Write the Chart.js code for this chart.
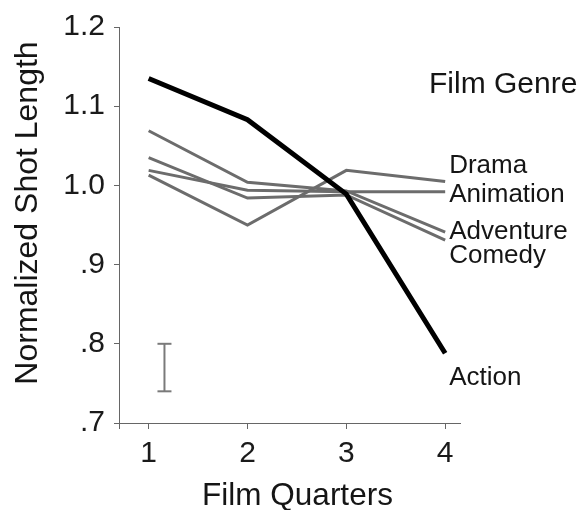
<!DOCTYPE html>
<html>
<head>
<meta charset="utf-8">
<script src="https://cdn.jsdelivr.net/npm/chart.js@4.4.1/dist/chart.umd.min.js"></script>
<style>
  body { margin: 0; background: #fff; }
  #wrap { width: 588px; height: 510px; }
</style>
</head>
<body>
<div id="wrap"><canvas id="shotChart" width="588" height="510"></canvas></div>
<script>
// quarters of the film and normalized shot length per genre
const quarters = [1, 2, 3, 4];
const genres = ['Action', 'Drama', 'Animation', 'Adventure', 'Comedy'];
const action = [1.135, 1.083, 0.989, 0.788];
const drama = [1.013, 0.950, 1.019, 1.005];
const animation = [1.019, 0.994, 0.992, 0.992];
const adventure = [1.069, 1.004, 0.993, 0.941];
const comedy = [1.035, 0.984, 0.988, 0.931];

// error bar shown in the lower left
const errorBarX = 1.16;
const errorBarRange = [0.74, 0.80];

const xTickValues = [0.7, 1, 2, 3, 4];
const xTickLabels = ['', '1', '2', '3', '4'];
const yTickValues = [0.7, 0.8, 0.9, 1.0, 1.1, 1.2];
const yTickLabels = ['.7', '.8', '.9', '1.0', '1.1', '1.2'];

const FONT = '"Liberation Sans", Arial, sans-serif';
const GREY = '#6c6c6c';

function toPoints(values) {
    return quarters.map((q, i) => ({ x: q, y: values[i] }));
}

const series = [action, drama, animation, adventure, comedy];

const datasets = series.map((values, i) => ({
    label: genres[i],
    data: toPoints(values),
    borderColor: i === 0 ? '#000' : GREY,
    borderWidth: i === 0 ? 5 : 3,
    pointRadius: 0,
    tension: 0,
    fill: false
}));

datasets.push({
    label: 'error',
    data: errorBarRange.map(v => ({ x: errorBarX, y: v })),
    borderColor: '#7a7a7a',
    borderWidth: 2,
    pointStyle: 'line',
    pointRadius: 7,
    pointBorderWidth: 2,
    pointBorderColor: '#7a7a7a',
    fill: false
});

// label offsets (px) from each line's last point
const labelShift = { Action: 32, Drama: -8, Animation: 10.5, Adventure: 7, Comedy: 23 };

const textPlugin = {
    id: 'genreText',
    afterDraw(chart) {
        const ctx = chart.ctx;
        const xs = chart.scales.x;
        const ys = chart.scales.y;
        const area = chart.chartArea;
        ctx.save();
        ctx.fillStyle = '#151515';
        ctx.textAlign = 'left';
        ctx.textBaseline = 'alphabetic';

        ctx.font = '30px ' + FONT;
        ctx.fillText('Film Genre', 429, 93);

        ctx.font = '26px ' + FONT;
        const lx = xs.getPixelForValue(4) + 4;
        series.forEach((values, i) => {
            const name = genres[i];
            const y = ys.getPixelForValue(values[values.length - 1]) + labelShift[name];
            ctx.fillText(name, lx, y);
        });

        // axis titles
        ctx.font = '31.5px ' + FONT;
        ctx.textAlign = 'center';
        ctx.fillText('Film Quarters', (area.left + area.right) / 2 + 8, 505);

        ctx.font = '32px ' + FONT;
        ctx.translate(37, (area.top + area.bottom) / 2 - 12);
        ctx.rotate(-Math.PI / 2);
        ctx.fillText('Normalized Shot Length', 0, 0);
        ctx.restore();
    }
};

new Chart(document.getElementById('shotChart'), {
    type: 'line',
    data: { datasets: datasets },
    options: {
        responsive: false,
        animation: false,
        layout: { padding: { top: 24, right: 128, left: 0, bottom: 0 } },
        plugins: {
            legend: { display: false },
            tooltip: { enabled: false }
        },
        scales: {
            x: {
                type: 'linear',
                min: 0.7,
                max: 4.15,
                afterBuildTicks: axis => { axis.ticks = xTickValues.map(v => ({ value: v })); },
                afterFit: axis => { axis.height = 87; },
                grid: { drawOnChartArea: false, drawTicks: true, tickLength: 6, color: '#666' },
                border: { display: true, color: '#666', width: 1 },
                ticks: {
                    padding: 7,
                    color: '#1a1a1a',
                    font: { family: FONT, size: 30 },
                    callback: (v, i) => xTickLabels[i]
                }
            },
            y: {
                type: 'linear',
                min: 0.7,
                max: 1.2,
                afterBuildTicks: axis => { axis.ticks = yTickValues.map(v => ({ value: v })); },
                afterFit: axis => { axis.width = 119; },
                grid: { drawOnChartArea: false, drawTicks: true, tickLength: 5, color: '#666' },
                border: { display: true, color: '#666', width: 1 },
                ticks: {
                    padding: 9,
                    color: '#1a1a1a',
                    font: { family: FONT, size: 30 },
                    callback: (v, i) => yTickLabels[i]
                }
            }
        }
    },
    plugins: [textPlugin]
});
</script>
</body>
</html>
